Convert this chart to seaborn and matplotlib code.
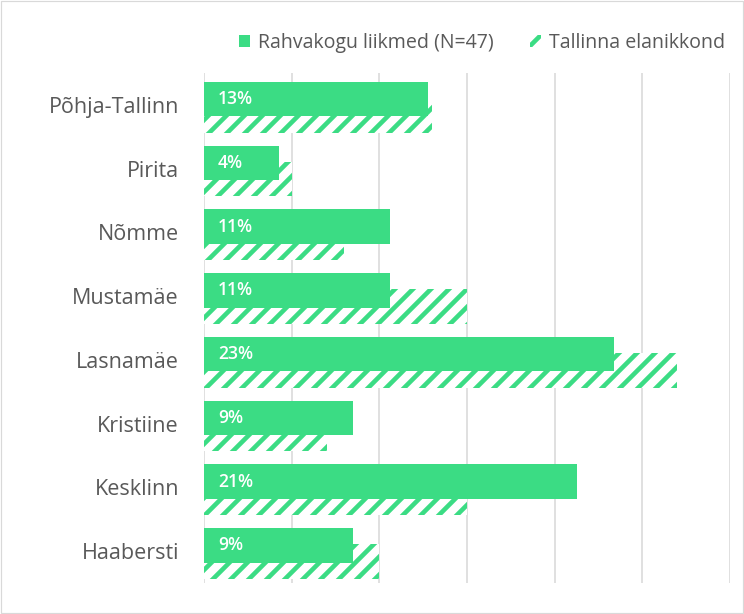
import matplotlib
matplotlib.use("Agg")
import matplotlib.pyplot as plt
import matplotlib.patches as mpatches
from matplotlib.backend_bases import GraphicsContextBase
import seaborn as sns
import pandas as pd
import numpy as np

categories = ["Põhja-Tallinn", "Pirita", "Nõmme", "Mustamäe", "Lasnamäe", "Kristiine", "Kesklinn", "Haabersti"]
rahvakogu = [12.8, 4.3, 10.6, 10.6, 23.4, 8.5, 21.3, 8.5]
elanikkond = [13.0, 5.0, 8.0, 15.0, 27.0, 7.0, 15.0, 10.0]
bar_labels = ["13%", "4%", "11%", "11%", "23%", "9%", "21%", "9%"]
series_names = ["Rahvakogu liikmed (N=47)", "Tallinna elanikkond"]
xticks = [0, 5, 10, 15, 20, 25, 30]

GREEN = "#3BDC84"
GRAY_TXT = "#595959"
GRID = "#D9D9D9"

# denser hatch stripes (style only)
_orig_hatch_path = GraphicsContextBase.get_hatch_path
def _dense_hatch_path(self, density=6.0):
    return _orig_hatch_path(self, density=8.0)
GraphicsContextBase.get_hatch_path = _dense_hatch_path

sns.set_theme(style="white")
plt.rcParams["font.family"] = ["Open Sans", "DejaVu Sans"]
plt.rcParams["hatch.linewidth"] = 4.6

DPI = 72
W, H = 744, 614
fig = plt.figure(figsize=(W / DPI, H / DPI), dpi=DPI)
fig.patch.set_facecolor("white")
ax = fig.add_axes([204 / W, 1 - 583 / H, (730 - 204) / W, (583 - 73) / H])

df = pd.DataFrame({"district": categories, "rahvakogu": rahvakogu, "elanikkond": elanikkond})

BAR_H = 0.54
OFF_SOLID = -0.09
OFF_HATCH = 0.165

# hatched population bars (behind)
sns.barplot(data=df, x="elanikkond", y="district", orient="h", width=BAR_H,
            color="white", ax=ax, zorder=2)
n = len(categories)
hatch_patches = list(ax.patches)
for p in hatch_patches:
    p.set_y(p.get_y() + OFF_HATCH)
    p.set_facecolor("white")
    p.set_edgecolor(GREEN)
    p.set_hatch("/")
    p.set_linewidth(0)

# solid member bars (front)
sns.barplot(data=df, x="rahvakogu", y="district", orient="h", width=BAR_H,
            color=GREEN, saturation=1, ax=ax, zorder=3)
solid_patches = list(ax.patches)[n:]
for p in solid_patches:
    p.set_y(p.get_y() + OFF_SOLID)
    p.set_facecolor(GREEN)
    p.set_edgecolor(GREEN)
    p.set_linewidth(0)

for p, lab in zip(solid_patches, bar_labels):
    ax.text(0.8, p.get_y() + p.get_height() / 2, lab, color="white",
            fontsize=17.5, fontweight="semibold", va="center", ha="left", zorder=5)

ax.set_xlim(xticks[0], xticks[-1])
ax.set_ylim(n - 0.5, -0.5)
ax.set_xticks(xticks)
ax.set_xticklabels([])
ax.xaxis.grid(True, color=GRID, linewidth=1.6, zorder=0)
ax.set_axisbelow(True)
ax.yaxis.grid(False)
for s in ax.spines.values():
    s.set_visible(False)
ax.set_xlabel("")
ax.set_ylabel("")
ax.tick_params(axis="y", length=0, pad=25, labelsize=21.5, labelcolor=GRAY_TXT)
ax.tick_params(axis="x", length=0)

handles = [
    mpatches.Patch(facecolor=GREEN, edgecolor=GREEN, linewidth=0, label=series_names[0]),
    mpatches.Patch(facecolor="white", edgecolor=GREEN, hatch="/", linewidth=0, label=series_names[1]),
]
leg = fig.legend(handles=handles, loc="center", bbox_to_anchor=(482 / W, 1 - 43 / H),
                 ncol=2, frameon=False, fontsize=19.5, handlelength=0.55, handleheight=0.55,
                 handletextpad=0.4, columnspacing=1.9, labelcolor=GRAY_TXT)

# light chart border
fig.add_artist(mpatches.Rectangle((1 / W, 1 / H), (W - 2) / W, (H - 2) / H,
                                  transform=fig.transFigure, fill=False,
                                  edgecolor=GRID, linewidth=1.2))

fig.savefig("out.png", dpi=DPI, facecolor="white")
